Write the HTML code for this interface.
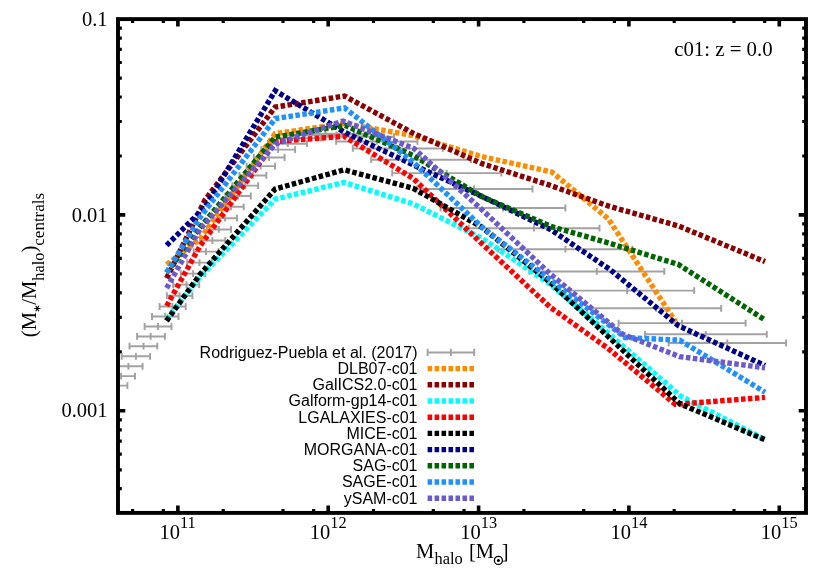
<!DOCTYPE html>
<html><head><meta charset="utf-8"><title>c01: z = 0.0</title>
<style>html,body{margin:0;padding:0;background:#fff}svg{display:block;will-change:transform}text{font-family:"Liberation Serif",serif;fill:#000}.k{font-family:"Liberation Sans",sans-serif;font-size:16px;text-anchor:end}.m{fill:none;stroke-width:5.4;stroke-dasharray:4.55 2.42;stroke-linejoin:miter;stroke-linecap:butt}.e{fill:none;stroke:#a2a2a2;stroke-width:1.95}</style></head><body>
<svg width="830" height="581" viewBox="0 0 830 581">
<rect width="830" height="581" fill="#fff"/>
<defs><clipPath id="c"><rect x="118.0" y="19.1" width="688.0" height="493.8"/></clipPath></defs>
<path d="M177.9 512.9v-7.3M177.9 19.1v7.3M328.2 512.9v-7.3M328.2 19.1v7.3M478.6 512.9v-7.3M478.6 19.1v7.3M628.9 512.9v-7.3M628.9 19.1v7.3M779.3 512.9v-7.3M779.3 19.1v7.3M118.0 410.8h7.3M806.0 410.8h-7.3M118.0 214.9h7.3M806.0 214.9h-7.3" stroke="#000" stroke-width="3.6" fill="none"/>
<path d="M132.6 512.9v-3.8M132.6 19.1v3.8M163.3 512.9v-3.8M163.3 19.1v3.8M223.2 512.9v-3.8M223.2 19.1v3.8M283.0 512.9v-3.8M283.0 19.1v3.8M313.7 512.9v-3.8M313.7 19.1v3.8M373.5 512.9v-3.8M373.5 19.1v3.8M433.3 512.9v-3.8M433.3 19.1v3.8M464.0 512.9v-3.8M464.0 19.1v3.8M523.9 512.9v-3.8M523.9 19.1v3.8M583.7 512.9v-3.8M583.7 19.1v3.8M614.4 512.9v-3.8M614.4 19.1v3.8M674.2 512.9v-3.8M674.2 19.1v3.8M734.0 512.9v-3.8M734.0 19.1v3.8M764.7 512.9v-3.8M764.7 19.1v3.8M118.0 488.7h3.8M806.0 488.7h-3.8M118.0 469.8h3.8M806.0 469.8h-3.8M118.0 454.2h3.8M806.0 454.2h-3.8M118.0 441.1h3.8M806.0 441.1h-3.8M118.0 429.8h3.8M806.0 429.8h-3.8M118.0 419.8h3.8M806.0 419.8h-3.8M118.0 351.8h3.8M806.0 351.8h-3.8M118.0 317.4h3.8M806.0 317.4h-3.8M118.0 292.9h3.8M806.0 292.9h-3.8M118.0 273.9h3.8M806.0 273.9h-3.8M118.0 258.4h3.8M806.0 258.4h-3.8M118.0 245.3h3.8M806.0 245.3h-3.8M118.0 233.9h3.8M806.0 233.9h-3.8M118.0 223.9h3.8M806.0 223.9h-3.8M118.0 156.0h3.8M806.0 156.0h-3.8M118.0 121.5h3.8M806.0 121.5h-3.8M118.0 97.0h3.8M806.0 97.0h-3.8M118.0 78.1h3.8M806.0 78.1h-3.8M118.0 62.5h3.8M806.0 62.5h-3.8M118.0 49.4h3.8M806.0 49.4h-3.8M118.0 38.1h3.8M806.0 38.1h-3.8M118.0 28.1h3.8M806.0 28.1h-3.8" stroke="#000" stroke-width="3.2" fill="none"/>
<g clip-path="url(#c)">
<path class="e" d="M99.8 385.6H127.4M99.8 382.2v6.8M113.8 382.2v6.8M127.4 382.2v6.8M107.1 376.1H135.0M107.1 372.7v6.8M121.1 372.7v6.8M135.0 372.7v6.8M114.2 366.3H142.6M114.2 362.9v6.8M128.4 362.9v6.8M142.6 362.9v6.8M121.7 356.3H150.1M121.7 352.9v6.8M135.9 352.9v6.8M150.1 352.9v6.8M129.5 346.2H157.3M129.5 342.8v6.8M143.5 342.8v6.8M157.3 342.8v6.8M137.1 336.4H164.9M137.1 333.0v6.8M150.7 333.0v6.8M164.9 333.0v6.8M144.6 326.5H171.5M144.6 323.1v6.8M157.9 323.1v6.8M171.5 323.1v6.8M152.0 316.5H178.5M152.0 313.1v6.8M165.2 313.1v6.8M178.5 313.1v6.8M159.6 306.5H185.7M159.6 303.1v6.8M172.4 303.1v6.8M185.7 303.1v6.8M166.8 295.7H192.4M166.8 292.3v6.8M179.5 292.3v6.8M192.4 292.3v6.8M173.2 284.6H199.2M173.2 281.2v6.8M186.5 281.2v6.8M199.2 281.2v6.8M180.8 273.6H205.3M180.8 270.2v6.8M193.1 270.2v6.8M205.3 270.2v6.8M187.2 262.6H211.7M187.2 259.2v6.8M199.5 259.2v6.8M211.7 259.2v6.8M193.7 251.6H218.5M193.7 248.2v6.8M206.0 248.2v6.8M218.5 248.2v6.8M200.1 240.5H225.3M200.1 237.1v6.8M212.4 237.1v6.8M225.3 237.1v6.8M206.8 229.4H231.0M206.8 226.0v6.8M218.8 226.0v6.8M231.0 226.0v6.8M213.0 218.2H237.0M213.0 214.8v6.8M225.0 214.8v6.8M237.0 214.8v6.8M218.7 206.8H243.7M218.7 203.4v6.8M231.1 203.4v6.8M243.7 203.4v6.8M225.4 196.0H250.8M225.4 192.6v6.8M238.0 192.6v6.8M250.8 192.6v6.8M232.4 185.6H258.2M232.4 182.2v6.8M245.2 182.2v6.8M258.2 182.2v6.8M239.4 175.4H266.3M239.4 172.0v6.8M252.8 172.0v6.8M266.3 172.0v6.8M246.6 166.1H275.0M246.6 162.7v6.8M260.7 162.7v6.8M275.0 162.7v6.8M253.8 157.5H284.6M253.8 154.1v6.8M269.0 154.1v6.8M284.6 154.1v6.8M261.4 149.6H295.1M261.4 146.2v6.8M278.1 146.2v6.8M295.1 146.2v6.8M268.8 143.7H307.0M268.8 140.3v6.8M287.8 140.3v6.8M307.0 140.3v6.8M277.0 138.2H321.0M277.0 134.8v6.8M299.0 134.8v6.8M321.0 134.8v6.8M286.5 134.9H336.5M286.5 131.5v6.8M311.5 131.5v6.8M336.5 131.5v6.8M297.0 133.6H354.0M297.0 130.2v6.8M325.5 130.2v6.8M354.0 130.2v6.8M309.0 134.2H373.0M309.0 130.8v6.8M341.0 130.8v6.8M373.0 130.8v6.8M322.0 136.7H394.0M322.0 133.3v6.8M358.0 133.3v6.8M394.0 133.3v6.8M336.1 141.4H417.4M336.1 138.0v6.8M376.7 138.0v6.8M417.4 138.0v6.8M352.8 148.4H442.8M352.8 145.0v6.8M397.8 145.0v6.8M442.8 145.0v6.8M371.2 159.7H471.0M371.2 156.3v6.8M421.0 156.3v6.8M471.0 156.3v6.8M392.2 173.1H501.3M392.2 169.7v6.8M446.7 169.7v6.8M501.3 169.7v6.8M416.7 189.0H532.5M416.7 185.6v6.8M474.0 185.6v6.8M532.5 185.6v6.8M440.6 208.0H565.4M440.6 204.6v6.8M503.0 204.6v6.8M565.4 204.6v6.8M468.8 228.2H599.5M468.8 224.8v6.8M534.0 224.8v6.8M599.5 224.8v6.8M498.2 249.2H632.4M498.2 245.8v6.8M565.4 245.8v6.8M632.4 245.8v6.8M529.3 271.4H664.3M529.3 268.0v6.8M596.8 268.0v6.8M664.3 268.0v6.8M559.9 290.6H694.2M559.9 287.2v6.8M627.1 287.2v6.8M694.2 287.2v6.8M591.1 308.3H721.2M591.1 304.9v6.8M656.3 304.9v6.8M721.2 304.9v6.8M618.6 323.1H745.6M618.6 319.7v6.8M682.0 319.7v6.8M745.6 319.7v6.8M644.9 334.3H766.8M644.9 330.9v6.8M705.8 330.9v6.8M766.8 330.9v6.8M668.7 343.0H786.1M668.7 339.6v6.8M727.3 339.6v6.8M786.1 339.6v6.8"/>
</g>
<path class="m" stroke="#ff8c00" d="M166.6 264.6L200.0 239.0L275.2 133.6L344.6 123.5L413.0 135.6L482.0 156.7L551.8 172.0L608.3 218.8L675.6 321.8"/>
<path class="m" stroke="#8b0000" d="M166.6 278.3L205.0 200.0L275.2 107.1L344.5 96.0L413.0 133.1L482.0 163.6L550.0 185.3L608.0 205.9L678.5 226.0L765.0 261.6"/>
<path class="m" stroke="#00ffff" d="M166.6 319.0L200.0 277.0L275.2 199.1L344.0 182.4L413.0 203.8L482.0 238.4L550.0 284.0L608.0 333.0L681.0 396.3L765.0 439.5"/>
<path class="m" stroke="#ff0000" d="M166.6 306.0L200.0 246.0L275.2 141.6L344.0 136.3L413.0 178.3L482.0 243.8L550.0 307.0L608.0 348.4L675.4 404.4L765.0 397.4"/>
<path class="m" stroke="#000000" d="M166.6 320.8L200.0 274.5L275.2 189.0L344.0 169.8L413.0 188.2L482.0 227.3L550.0 282.2L608.0 336.4L679.6 403.6L765.0 439.8"/>
<path class="m" stroke="#00008b" d="M166.6 245.4L205.0 207.0L275.2 90.8L344.6 132.2L413.0 164.8L482.0 196.5L550.0 229.2L610.0 269.5L678.5 325.8L765.0 365.5"/>
<path class="m" stroke="#006400" d="M166.6 272.6L200.0 227.5L275.2 137.1L345.0 125.4L413.0 155.4L482.0 196.6L551.0 226.4L608.0 242.8L678.5 264.5L765.0 320.0"/>
<path class="m" stroke="#1e90ff" d="M166.6 272.6L200.0 217.5L275.2 118.6L344.7 107.9L413.0 162.0L482.0 227.2L550.0 279.3L625.0 337.5L679.8 340.2L765.0 392.2"/>
<path class="m" stroke="#6a5acd" d="M166.6 288.2L200.0 229.2L275.2 144.1L343.0 121.0L414.0 148.5L482.0 209.7L550.0 273.8L622.6 334.2L679.6 356.6L765.0 367.8"/>
<rect x="118.0" y="19.1" width="688.0" height="493.8" fill="none" stroke="#000" stroke-width="3.9"/>
<text class="k" x="417.5" y="357.7">Rodriguez-Puebla et al. (2017)</text>
<path class="e" d="M427.6 352.4H474.2M427.6 348.8v7.2M450.9 348.8v7.2M474.2 348.8v7.2"/>
<text class="k" x="417.5" y="373.9">DLB07-c01</text>
<path class="m" stroke="#ff8c00" d="M427.6 368.6H474.2"/>
<text class="k" x="417.5" y="390.1">GalICS2.0-c01</text>
<path class="m" stroke="#8b0000" d="M427.6 384.8H474.2"/>
<text class="k" x="417.5" y="406.3">Galform-gp14-c01</text>
<path class="m" stroke="#00ffff" d="M427.6 401.0H474.2"/>
<text class="k" x="417.5" y="422.5">LGALAXIES-c01</text>
<path class="m" stroke="#ff0000" d="M427.6 417.2H474.2"/>
<text class="k" x="417.5" y="438.7">MICE-c01</text>
<path class="m" stroke="#000000" d="M427.6 433.4H474.2"/>
<text class="k" x="417.5" y="454.9">MORGANA-c01</text>
<path class="m" stroke="#00008b" d="M427.6 449.6H474.2"/>
<text class="k" x="417.5" y="471.1">SAG-c01</text>
<path class="m" stroke="#006400" d="M427.6 465.8H474.2"/>
<text class="k" x="417.5" y="487.3">SAGE-c01</text>
<path class="m" stroke="#1e90ff" d="M427.6 482.0H474.2"/>
<text class="k" x="417.5" y="503.5">ySAM-c01</text>
<path class="m" stroke="#6a5acd" d="M427.6 498.2H474.2"/>
<text x="107.6" y="25.7" font-size="20.5" text-anchor="end">0.1</text>
<text x="107.6" y="221.5" font-size="20.5" text-anchor="end">0.01</text>
<text x="107.6" y="417.4" font-size="20.5" text-anchor="end">0.001</text>
<text x="159.5" y="538.5" font-size="20.5">10<tspan dy="-10.8" font-size="16.4">11</tspan></text>
<text x="309.8" y="538.5" font-size="20.5">10<tspan dy="-10.8" font-size="16.4">12</tspan></text>
<text x="460.2" y="538.5" font-size="20.5">10<tspan dy="-10.8" font-size="16.4">13</tspan></text>
<text x="610.5" y="538.5" font-size="20.5">10<tspan dy="-10.8" font-size="16.4">14</tspan></text>
<text x="760.8" y="538.5" font-size="20.5">10<tspan dy="-10.8" font-size="16.4">15</tspan></text>
<text x="772.6" y="56.2" font-size="20.8" text-anchor="end">c01: z = 0.0</text>
<text x="416" y="558" font-size="20.5">M</text>
<text x="434.6" y="564.3" font-size="16.4">halo</text>
<text x="469" y="558" font-size="20.5">[M</text>
<circle cx="498.4" cy="560.4" r="4.0" fill="none" stroke="#000" stroke-width="1.3"/><circle cx="498.4" cy="560.4" r="1.5" fill="#000"/>
<text x="501.8" y="558" font-size="20.5">]</text>
<g transform="translate(36.4 337.2) rotate(-90)"><text x="0" y="0" font-size="20.5">(M</text><path d="M28.7 -2.2V4M26 -0.65L31.4 2.45M26 2.45L31.4 -0.65" stroke="#000" stroke-width="1.1" fill="none"/><text x="32.5" y="0" font-size="20.5">/M<tspan dy="7.6" font-size="16.4">halo</tspan><tspan dy="-7.6" font-size="20.5">)</tspan><tspan dy="7.6" font-size="17">centrals</tspan></text></g>
</svg></body></html>
